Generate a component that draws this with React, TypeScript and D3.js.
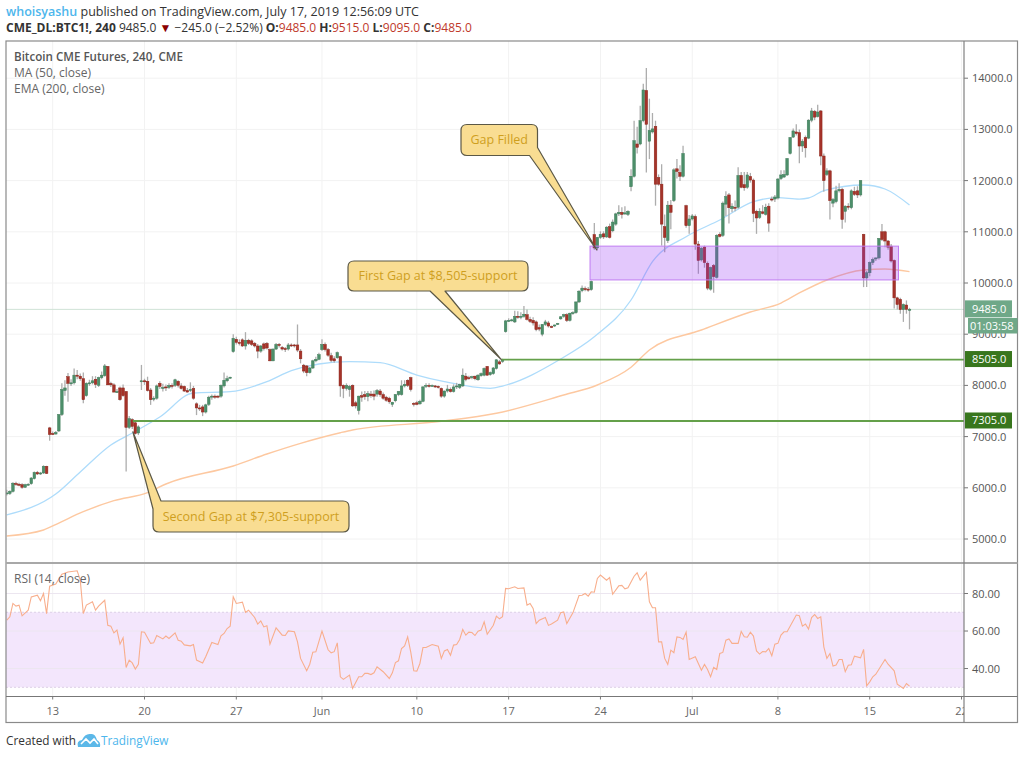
import React from 'react';
import * as d3 from 'd3';

type Candle = [number, number, number, number]; // open, high, low, close

const may06: Candle[] = [[5880,5960,5850,5900],[5890,5950,5860,5930],[5930,6110,5910,6090],[6085,6120,6040,6070],[6070,6100,6030,6050],[6060,6090,5980,6010],[6010,6080,6000,6060],[6060,6090,6040,6070],[6080,6210,6060,6190],[6180,6320,6160,6300],[6300,6330,6250,6270],[6270,6310,6250,6290],[6290,6440,6270,6420],[6420,6430,6270,6280],[7170,7190,6920,7040]];
const may13: Candle[] = [[7060,7100,7030,7050],[7050,7110,7040,7080],[7110,7440,7090,7430],[7430,8040,7400,7920],[7900,8100,7800,7950],[8170,8240,7680,8040],[8040,8120,7990,8050],[8050,8330,8020,8200],[8200,8300,8120,8180],[8180,8230,8090,8130],[8130,8250,7650,7720],[7800,8060,7780,8040],[8030,8110,7990,8050],[8050,8180,8020,8090],[8120,8180,7950,8020],[8000,8170,7970,8150],[8150,8270,8120,8200],[8190,8420,8170,8380],[8370,8380,8010,8010],[8040,8070,7970,8010],[8010,8040,7860,7870],[7880,7930,7850,7880],[7950,7980,7700,7720],[7950,8020,7780,7800],[7880,7890,6320,7180],[7180,7400,7150,7350],[7330,7360,7150,7200],[7270,7290,7040,7060],[7070,7220,7030,7190],[8080,8400,7910,8090]];
const may20: Candle[] = [[8090,8130,8010,8070],[8080,8170,7880,7900],[7910,7950,7620,7720],[7730,7790,7690,7750],[7750,8020,7720,7990],[8040,8080,7930,7980],[7950,8030,7880,7960],[7970,8020,7890,7960],[7960,8040,7930,8000],[8000,8040,7940,7990],[8000,8130,7970,8110],[8080,8100,7960,8000],[7990,8040,7920,7940],[7980,8000,7870,7890],[7900,7950,7860,7870],[7900,8060,7870,7920],[7940,7990,7720,7750],[7640,7670,7420,7560],[7560,7620,7500,7540],[7580,7620,7400,7480],[7480,7640,7450,7620],[7630,7800,7600,7770],[7780,7820,7720,7790],[7790,7820,7740,7770],[7790,7810,7750,7780],[7790,8020,7760,8000],[7990,8250,7960,8100],[8090,8190,8060,8130],[8150,8170,8130,8160],[8660,9000,8640,8920]];
const may27: Candle[] = [[8900,8950,8800,8840],[8840,8900,8780,8820],[8890,8920,8750,8770],[8770,9040,8700,8880],[8880,8910,8790,8820],[8870,8900,8770,8800],[8820,8850,8740,8770],[8770,8810,8530,8670],[8670,8790,8640,8770],[8810,8840,8680,8720],[8820,8850,8700,8730],[8700,8720,8470,8480],[8480,8720,8470,8710],[8710,8830,8690,8800],[8800,8830,8740,8780],[8740,8770,8680,8710],[8720,8750,8650,8700],[8710,8830,8680,8790],[8790,8820,8750,8770],[8790,8810,8740,8770],[8790,9190,8650,8690],[8670,8710,8430,8520],[8395,8420,8240,8280],[8380,8400,8180,8250],[8250,8360,8230,8340],[8340,8500,8320,8480],[8480,8560,8450,8510],[8510,8640,8490,8600]];
const jun03: Candle[] = [[8700,8900,8670,8800],[8800,8840,8660,8700],[8700,8730,8560,8590],[8580,8640,8450,8490],[8520,8570,8440,8480],[8540,8660,8520,8640],[8560,8580,7780,7990],[8000,8020,7750,7940],[7940,8040,7900,8000],[7920,8010,7780,7980],[8000,8020,7580,7600],[7660,7700,7550,7600],[7510,7800,7430,7790],[7800,7880,7680,7770],[7820,7890,7720,7780],[7780,7890,7690,7840],[7830,7890,7760,7800],[7830,7900,7710,7790],[7830,7930,7780,7900],[7890,7930,7780,7820],[7820,7860,7720,7750],[7770,7800,7680,7710],[7750,7780,7640,7680],[7630,7680,7580,7670],[7700,7830,7670,7820],[7820,7890,7790,7880],[7820,8100,7800,7990],[7990,8100,7960,8020],[8100,8120,7970,8000],[8150,8170,7880,7920],[7650,7670,7590,7640]];
const jun10: Candle[] = [[7660,7700,7610,7630],[7640,7720,7620,7690],[7690,7990,7670,7970],[7990,8040,7950,8000],[8000,8040,7960,7990],[7990,8020,7970,8000],[7990,8010,7950,7970],[7980,8000,7940,7960],[7940,7960,7760,7790],[7790,7900,7760,7890],[7890,8010,7860,7930],[7920,7960,7860,7880],[7880,8020,7860,7970],[7970,8050,7930,7990],[7960,8030,7930,8020],[7990,8330,7970,8200],[8180,8240,8080,8120],[8150,8190,8110,8130],[8160,8190,8120,8170],[8180,8190,8100,8130],[8110,8220,8090,8200],[8190,8250,8170,8230],[8200,8350,8180,8330],[8370,8380,8190,8200],[8210,8270,8190,8250],[8230,8360,8210,8340],[8330,8510,8310,8500],[8460,8500,8400,8420],[8470,8520,8440,8490],[9050,9280,9030,9260]];
const jun17: Candle[] = [[9260,9310,9240,9270],[9270,9300,9250,9280],[9240,9460,9220,9350],[9350,9450,9300,9330],[9330,9430,9290,9350],[9350,9550,9320,9390],[9380,9480,9270,9290],[9290,9340,9220,9250],[9270,9330,9170,9220],[9240,9270,9060,9090],[9130,9190,9060,9100],[9000,9200,8960,9190],[9190,9280,9160,9240],[9220,9260,9130,9160],[9150,9170,9120,9140],[9160,9190,9140,9180],[9200,9220,9180,9210],[9300,9350,9280,9340],[9350,9400,9320,9380],[9380,9410,9240,9270],[9270,9420,9250,9410],[9410,9450,9380,9420],[9420,9640,9400,9630],[9630,9860,9610,9840],[9850,9950,9820,9900],[9890,9930,9840,9880],[9880,9920,9830,9870],[9870,10050,9850,10030],[10945,11170,10650,10685],[10685,10900,10640,10890]];
const jun24: Candle[] = [[10890,11010,10860,10950],[10960,11010,10860,10900],[10900,11110,10880,11090],[11100,11160,10870,10890],[11020,11240,10990,11190],[11150,11370,11120,11350],[11350,11520,11310,11380],[11380,11480,11260,11340],[11350,11500,11330,11370],[11340,11420,11310,11400],[11880,12220,11790,12085],[12085,13170,12060,12780],[12715,13050,12530,12650],[12715,13460,12690,13170],[13170,13890,13140,13770],[13760,14200,12160,13100],[12770,13600,12420,12980],[12950,13320,12920,13010],[13060,13170,11510,11930],[12060,12120,11900,11930],[11930,12320,10730,11150],[11100,11340,10600,10890],[10830,11600,10780,11520],[11520,11620,11050,11380],[11610,12240,11580,12210],[12230,12420,12040,12180],[12160,12300,11990,12085],[12085,12680,12060,12530],[11510,11530,11080,11120],[11120,11330,10960,11250]];
const jul01: Candle[] = [[11250,11350,11220,11310],[11300,11340,10650,10760],[10760,10820,10180,10440],[10450,10700,10420,10680],[10700,10730,10300,10400],[10385,10420,9860,9900],[9880,10320,9850,10300],[10340,10370,9810,10125],[10110,10950,10090,10930],[10950,10990,10890,10910],[10930,11590,10900,11560],[11540,11790,11310,11690],[11720,11760,11160,11470],[11450,11560,11380,11500],[11480,11610,11400,11460],[11480,12260,11450,12100],[12100,12170,11850,11870],[11920,12170,11800,11860],[11870,12170,11840,12110],[12080,12150,11960,12010],[12010,12040,11190,11360],[11400,11430,10960,11270],[11280,11460,11250,11400],[11390,11520,11340,11360],[11340,11550,11320,11480],[11500,11560,11000,11170],[11640,11690,11590,11630],[11640,11720,11580,11680]];
const jul08: Candle[] = [[11660,12050,11630,12030],[12040,12200,12010,12110],[12070,12200,12050,12120],[12110,12440,12090,12430],[12530,12850,12510,12840],[12850,13020,12830,12970],[12950,13100,12880,12920],[12935,13000,12340,12675],[12675,12810,12560,12770],[12840,12880,12450,12640],[12830,13200,12810,13180],[13180,13420,13140,13360],[13350,13380,13180,13240],[13250,13480,13230,13340],[13360,13380,12300,12480],[12480,12530,11780,12000],[12120,12240,12090,12190],[12190,12210,11240,11610],[11560,11660,11480,11630],[11590,11900,11560,11800],[11800,11950,11770,11830],[11830,11860,11060,11240],[11400,11520,11180,11500],[11500,11560,11430,11480],[11470,11830,11440,11800],[11790,11880,11700,11730],[11800,11890,11660,11720],[11720,12010,11690,12000],[10950,10960,9920,10100],[10100,10240,9920,10200]];
const jul15: Candle[] = [[10200,10420,10130,10400],[10400,10500,10350,10460],[10470,10500,10430,10490],[10490,10880,10460,10870],[11000,11150,10820,10850],[11000,11020,10700,10820],[10820,10840,10650,10700],[10720,10760,10400,10430],[10440,10460,9500,9710],[9710,9730,9480,9580],[9680,9710,9400,9480],[9480,9600,9240,9580],[9570,9660,9400,9485],[9485,9515,9095,9485]];
const candles: Candle[] = [...may06, ...may13, ...may20, ...may27, ...jun03, ...jun10, ...jun17, ...jun24, ...jul01, ...jul08, ...jul15];

// [bar, value]
const ma50: [number, number][] = [[0,5469],[16,5879],[24,6309],[34,6836],[41,7070],[50,7383],[61,7852],[73,7877],[85,8072],[93,8287],[102,8418],[112,8463],[122,8443],[134,8203],[143,8072],[158,7943],[162,7988],[181,8516],[192,8951],[204,9668],[211,10416],[222,10904],[233,11230],[244,11588],[252,11666],[259,11640],[262,11660],[267,11803],[280,11914],[287,11836],[295,11523]];
const ema200: [number, number][] = [[0,5059],[12,5176],[17,5312],[25,5533],[35,5748],[46,5904],[52,6074],[74,6426],[85,6660],[96,6869],[109,7076],[113,7129],[142,7299],[160,7455],[182,7812],[193,8008],[204,8353],[210,8691],[227,9082],[243,9434],[253,9609],[259,9805],[268,10059],[280,10254],[287,10273],[295,10221]];

const rsiMay: [number, number][] = [[0,65.8],[1,67.6],[2,74.7],[3,73.3],[4,73.8],[5,68.1],[7,71.1],[8,78.2],[10,79.1],[11,76.1],[12,80],[13,69.3],[14,83.9],[16,85],[18,90.3],[20,91.5],[23,92.1],[24,87.1],[25,69.3],[26,73.8],[28,75.6],[29,71.1],[30,73.3],[32,76.4],[33,63.1],[34,62.6],[35,59],[36,60.5],[37,53],[38,56.4],[39,40.6],[40,44.5],[41,43],[42,39.7],[43,42.2],[44,59.6],[45,59.4],[47,53.4],[48,53.7],[49,57.6],[51,55.8],[52,57.3],[53,56],[55,59],[56,55.1],[57,54.6],[58,52.6],[60,52.1],[61,52.8],[62,44.5],[64,43],[65,46.3],[67,53.9],[69,52.8],[70,57.4],[71,58.7],[72,61.3],[73,62.6],[74,78.2],[75,74.7],[77,75.4],[78,69.9],[79,71.1],[81,67.2],[82,63.7],[83,65.4],[84,62.2],[85,62.8],[86,53],[88,61.7],[90,57.8],[91,57.6],[92,60.1],[94,59.6],[95,54.2],[96,45.4],[98,38.8],[99,42.3],[100,48.7],[101,48.9]];
const rsiJun: [number, number][] = [[103,60],[105,50],[106,48.4],[107,49],[108,53.7],[109,35.6],[110,34.2],[112,36.5],[113,29.4],[115,35.6],[116,35.6],[117,37.4],[118,37.4],[119,36.8],[120,37.7],[121,40.9],[123,38.3],[125,34.7],[126,37.7],[127,43.2],[128,44.1],[129,50.7],[130,52.1],[131,56.9],[132,48.9],[133,38.8],[134,38.6],[135,42.7],[136,51.2],[137,51.2],[139,52.8],[141,51.9],[142,45.4],[143,49.4],[144,50.2],[145,47.1],[146,52.5],[147,52.8],[148,55.5],[149,60.8],[150,57.8],[151,59.4],[152,59.2],[153,57.6],[154,59.9],[155,60.5],[156,64.9],[157,58.3],[159,63.1],[160,67.9],[161,66.5],[162,67.6],[163,82.7],[164,82.5],[166,83.6],[167,82.7],[169,83],[170,73.8],[171,74.7],[172,72],[173,64],[174,65.8],[176,67.2],[177,63],[178,63.7],[180,65.8],[181,69.7],[182,70.2],[183,64],[185,69.7],[187,78.9],[188,79.1],[189,80],[190,78.6],[191,80.9],[192,80.7],[193,88],[194,89.8],[196,87.1],[197,88.5],[198,79.6],[200,84.1],[201,84.3],[202,82.5],[203,83],[205,89.2],[206,91],[207,87.1],[209,91.2],[210,75.6],[211,72.4],[212,72.4],[213,54.2],[214,54.2],[215,45.4],[216,42.2],[217,49.8],[218,48.4],[219,56.9],[220,56.6],[221,55.5],[222,59.4],[223,44.8]];
const rsiJul: [number, number][] = [[225,46.3],[226,42.7],[227,39.1],[228,42.2],[229,39.5],[230,35.6],[231,40.6],[232,39.5],[233,48],[234,48.6],[235,55.1],[236,55.8],[237,53.4],[239,53.4],[240,59.8],[241,56.9],[242,56.7],[243,59.4],[244,57.3],[245,49.4],[246,47.7],[247,49.1],[248,48.9],[249,50.7],[250,46.8],[251,53],[252,53.4],[253,57.8],[254,59.6],[255,59.6],[258,68.5],[259,68.1],[260,62.6],[261,63.7],[262,61],[263,67.2],[264,68.8],[265,66.7],[266,67.6],[267,51.6],[268,45.4],[269,48],[270,41.3],[271,41.9],[272,44.8],[273,44.8],[274,38.3],[275,41.8],[276,42],[277,46.6],[279,45.7],[280,50.2],[281,30.8],[282,32.9],[283,35.6],[284,37],[287,44.8],[288,42.3],[290,38.8],[291,31.7],[293,29.4],[294,32],[295,30.6]];
const rsi = [...rsiMay, ...rsiJun, ...rsiJul];

const timeTickBars = [15, 45, 75, 103, 134, 164, 194, 224, 252, 282, 312];
const timeTickLabels = ['13', '20', '27', 'Jun', '10', '17', '24', 'Jul', '8', '15', '22'];
const priceTicks = [5000, 6000, 7000, 8000, 9000, 10000, 11000, 12000, 13000, 14000];
const rsiTicks = [40, 60, 80];

const lastPrice = 9485;
const supportLevels = [8505, 7305];

const L = 6, R = 1017.5, AXIS = 964, TOP = 41, DIVIDER = 563, TIME_TOP = 696.5, BOTTOM = 722.5;
const FONT = '"Open Sans", "Noto Sans", sans-serif';

const x = d3.scaleLinear().domain([0, 295]).range([6.8, 6.8 + 295 * 3.06]);
const y = d3.scaleLinear().domain([5000, 14000]).range([539, 78.2]);
const yRsi = d3.scaleLinear().domain([30, 80]).range([687.3, 593.5]);

const maLine = d3.line<[number, number]>().x(d => x(d[0])).y(d => y(d[1])).curve(d3.curveMonotoneX);
const rsiLine = d3.line<[number, number]>().x(d => x(d[0])).y(d => yRsi(d[1]));

// rounded box with a pointer; the pointer leaves from the bottom edge or wraps a corner
function calloutPath(c: typeof callouts[number]) {
  const [bx, by, bw, bh] = c.box;
  const [tx, ty] = [x(c.tipBar), y(c.tipPrice)];
  const r = 6, right = bx + bw, bottom = by + bh;
  const tl = c.side === 'topleft' ? `M${bx + c.p},${by}` : `M${bx + r},${by}`;
  const tr = `L${right - r},${by}Q${right},${by} ${right},${by + r}`;
  const br = c.side === 'bottomright'
    ? `L${right},${bottom - c.p}L${tx},${ty}L${right - c.p},${bottom}`
    : `L${right},${bottom - r}Q${right},${bottom} ${right - r},${bottom}`;
  const bot = c.side === 'bottom' ? `L${c.p + 15},${bottom}L${tx},${ty}L${c.p},${bottom}` : '';
  const bl = `L${bx + r},${bottom}Q${bx},${bottom} ${bx},${bottom - r}`;
  const close = c.side === 'topleft'
    ? `L${bx},${by + c.p}L${tx},${ty}Z`
    : `L${bx},${by + r}Q${bx},${by} ${bx + r},${by}Z`;
  return tl + tr + br + bot + bl + close;
}

const callouts = [
  { text: 'Gap Filled', box: [461, 124.5, 76.5, 31], tipBar: 192.8, tipPrice: 10645, side: 'bottomright', p: 8 },
  { text: 'First Gap at $8,505-support', box: [348, 261, 180, 30], tipBar: 161.6, tipPrice: 8505, side: 'bottom', p: 430 },
  { text: 'Second Gap at $7,305-support', box: [153, 501, 196, 31], tipBar: 41.2, tipPrice: 7095, side: 'topleft', p: 8 },
];

export default function App() {
  return (
    <svg width={1024} height={757} style={{ position: 'absolute', left: 0, top: 0, background: '#fff' }} fontFamily={FONT}>
      <defs>
        <clipPath id="plot"><rect x={L} y={TOP} width={AXIS - L} height={DIVIDER - TOP} /></clipPath>
        <clipPath id="rsi"><rect x={L} y={DIVIDER} width={AXIS - L} height={TIME_TOP - DIVIDER} /></clipPath>
        <clipPath id="time"><rect x={L} y={TIME_TOP} width={AXIS - L} height={BOTTOM - TIME_TOP} /></clipPath>
      </defs>

      {/* header */}
      <text x={6} y={16} fontSize={12.5} fill="#333">
        <tspan fill="#4db6ec" fontWeight={600}>whoisyashu</tspan> published on TradingView.com, July 17, 2019 12:56:09 UTC
      </text>
      <text x={6} y={32} fontSize={12} fill="#333">
        <tspan fontWeight={700}>CME_DL:BTC1!, 240</tspan> 9485.0 <tspan fill="#8b0000">▼</tspan> −245.0 (−2.52%) <tspan fontWeight={700}>O:</tspan><tspan fill="#c0392b">9485.0</tspan> <tspan fontWeight={700}>H:</tspan><tspan fill="#c0392b">9515.0</tspan> <tspan fontWeight={700}>L:</tspan><tspan fill="#c0392b">9095.0</tspan> <tspan fontWeight={700}>C:</tspan><tspan fill="#c0392b">9485.0</tspan>
      </text>

      {/* grid */}
      {timeTickBars.map(b => (
        <line key={b} x1={x(b)} x2={x(b)} y1={TOP} y2={TIME_TOP} stroke="#f2f2f2" />
      ))}
      {priceTicks.map(p => (
        <line key={p} x1={L} x2={AXIS} y1={y(p)} y2={y(p)} stroke="#f2f2f2" />
      ))}

      {/* RSI band under the line */}
      <rect x={L} width={AXIS - L} y={yRsi(70)} height={yRsi(30) - yRsi(70)} fill="#f3e6fc" />
      {rsiTicks.map(r => (
        <line key={r} x1={L} x2={AXIS} y1={yRsi(r)} y2={yRsi(r)} stroke="#ece6f0" />
      ))}
      {[70, 30].map(r => (
        <line key={r} x1={L} x2={AXIS} y1={yRsi(r)} y2={yRsi(r)} stroke="#dccfe6" strokeDasharray="2 2" />
      ))}
      <g clipPath="url(#rsi)">
        <path d={rsiLine(rsi) ?? ''} fill="none" stroke="#f8ae8c" strokeWidth={1.1} />
      </g>

      <g clipPath="url(#plot)">
        <line x1={L} x2={AXIS} y1={y(lastPrice)} y2={y(lastPrice)} stroke="#cfe3d6" />
        <path d={maLine(ma50) ?? ''} fill="none" stroke="#aedcfb" strokeWidth={1.3} />
        <path d={maLine(ema200) ?? ''} fill="none" stroke="#fdc8a0" strokeWidth={1.4} />

        {candles.map((c, i) => {
          const [o, h, l, cl] = c;
          const up = cl >= o;
          const top = y(Math.max(o, cl));
          const bh = Math.max(Math.abs(y(o) - y(cl)), 1);
          return (
            <g key={i}>
              <line x1={x(i)} x2={x(i)} y1={y(h)} y2={y(l)} stroke="#adadad" strokeWidth={1.3} />
              <rect x={x(i) - 1.3} width={2.6} y={top} height={bh} fill={up ? '#4d8f6a' : '#a5332a'} stroke={up ? '#3f7d5a' : '#8e2418'} strokeWidth={0.5} />
            </g>
          );
        })}

        {supportLevels.map((s, n) => (
          <line key={s} x1={n === 0 ? x(161.6) : x(41.2)} x2={AXIS} y1={y(s)} y2={y(s)} stroke="#64a04a" strokeWidth={1.8} />
        ))}

        {/* gap filled zone */}
        <rect x={x(190.6)} width={x(291.4) - x(190.6)} y={y(10720)} height={y(10060) - y(10720)} fill="rgba(152,50,245,0.27)" stroke="#c07cf2" strokeWidth={1} />
      </g>

      {/* callouts */}
      {callouts.map(c => {
        const [bx, by, bw, bh] = c.box;
        return (
          <g key={c.text}>
            <path d={calloutPath(c)} fill="#f9dd92" stroke="#5b5846" strokeWidth={1.2} strokeLinejoin="round" />
            <text x={bx + bw / 2} y={by + bh / 2 + 4} textAnchor="middle" fontSize={12.5} fill="#cf9f1e">{c.text}</text>
          </g>
        );
      })}

      {/* legends */}
      <text x={14} y={61} fontSize={11.6} fill="#555" fontWeight={600}>Bitcoin CME Futures, 240, CME</text>
      <text x={14} y={77} fontSize={12} fill="#666">MA (50, close)</text>
      <text x={14} y={93} fontSize={12} fill="#666">EMA (200, close)</text>
      <text x={14} y={583} fontSize={12} fill="#666">RSI (14, close)</text>

      {/* price axis */}
      {priceTicks.map(p => (
        <g key={p}>
          <line x1={AXIS} x2={AXIS + 4} y1={y(p)} y2={y(p)} stroke="#777" />
          <text x={972} y={y(p) + 4} fontSize={11} fill="#555">{d3.format('.1f')(p)}</text>
        </g>
      ))}
      {rsiTicks.map(r => (
        <g key={r}>
          <line x1={AXIS} x2={AXIS + 4} y1={yRsi(r)} y2={yRsi(r)} stroke="#777" />
          <text x={972} y={yRsi(r) + 4} fontSize={11} fill="#555">{d3.format('.2f')(r)}</text>
        </g>
      ))}

      {/* time axis */}
      <g clipPath="url(#time)">
        {timeTickBars.map((b, i) => (
          <g key={b}>
            <line x1={x(b)} x2={x(b)} y1={TIME_TOP} y2={TIME_TOP + 3} stroke="#777" />
            <text x={x(b)} y={715} textAnchor="middle" fontSize={11} fill="#666">{timeTickLabels[i]}</text>
          </g>
        ))}
      </g>

      {/* frame */}
      <rect x={L} y={TOP} width={R - L} height={BOTTOM - TOP} fill="none" stroke="#8a8a8a" strokeWidth={1.2} />
      <line x1={L} x2={R} y1={DIVIDER} y2={DIVIDER} stroke="#a8a8a8" strokeWidth={1.8} />
      <line x1={L} x2={R} y1={TIME_TOP} y2={TIME_TOP} stroke="#777" strokeWidth={1.1} />
      <line x1={AXIS} x2={AXIS} y1={TOP} y2={BOTTOM} stroke="#808080" strokeWidth={1.2} />

      {/* price badges */}
      <rect x={965} y={y(lastPrice) - 9} width={47} height={17} fill="#6fa888" />
      <text x={972} y={y(lastPrice) + 4} fontSize={11} fill="#fff">{d3.format('.1f')(lastPrice)}</text>
      <rect x={968} y={318} width={49.5} height={15.5} fill="#6fa888" />
      <text x={970} y={330} fontSize={11} fill="#fff">01:03:58</text>
      {supportLevels.map(s => (
        <g key={s}>
          <rect x={965} y={y(s) - 8.5} width={47} height={16} fill="#38761d" />
          <text x={972} y={y(s) + 3.5} fontSize={11} fill="#fff">{d3.format('.1f')(s)}</text>
        </g>
      ))}

      {/* footer */}
      <text x={6} y={745} fontSize={11.8} fill="#333">Created with</text>
      <path d="M78,747 Q76,741 82,740 Q85,733 91,734 Q95,733 97,740 Q101,742 100,747 Z" fill="#5cb8e8" />
      <path d="M81,744 L86,739 L90,743 L94,739 L98,744" fill="none" stroke="#fff" strokeWidth={1.6} />
      <text x={101} y={745} fontSize={11.8} fill="#4db6ec">TradingView</text>
    </svg>
  );
}
